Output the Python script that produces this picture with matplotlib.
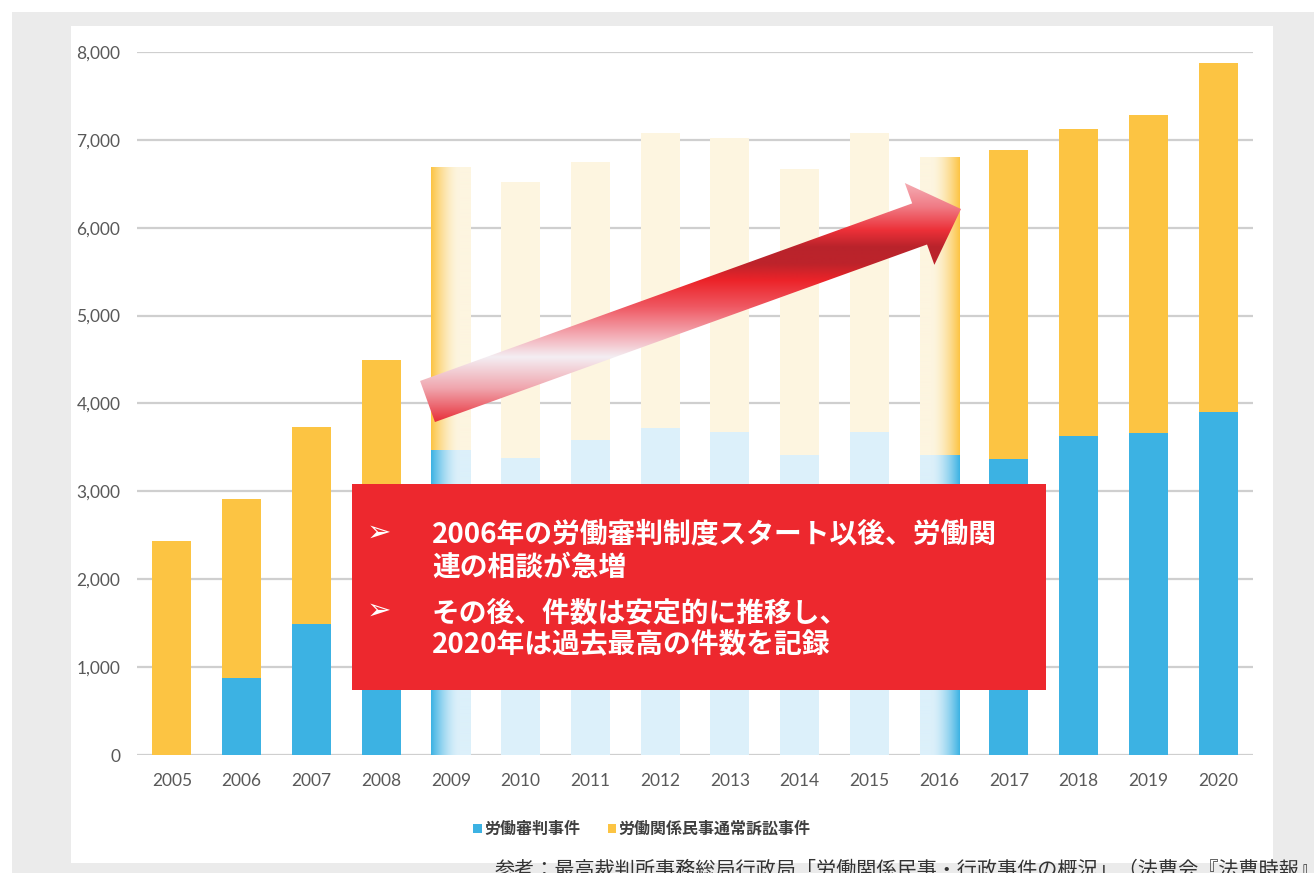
import numpy as np
import matplotlib.pyplot as plt
from matplotlib.patches import Polygon, Rectangle
from matplotlib.colors import to_rgba, LinearSegmentedColormap

# data
years = ['2005', '2006', '2007', '2008', '2009', '2010', '2011', '2012',
         '2013', '2014', '2015', '2016', '2017', '2018', '2019', '2020']
shinpan = [0, 877, 1494, 2052, 3468, 3375, 3586, 3719,
           3678, 3416, 3679, 3414, 3369, 3630, 3665, 3907]
soshou = [2440, 2033, 2236, 2438, 3222, 3145, 3164, 3361,
          3342, 3254, 3401, 3386, 3521, 3490, 3615, 3963]
series_names = ['労働審判事件', '労働関係民事通常訴訟事件']
faded_years = ['2009', '2010', '2011', '2012', '2013', '2014', '2015', '2016']
y_ticks = [0, 1000, 2000, 3000, 4000, 5000, 6000, 7000, 8000]

bullets = ['2006年の労働審判制度スタート以後、労働関\n連の相談が急増',
           'その後、件数は安定的に推移し、\n2020年は過去最高の件数を記録']
footer = '参考：最高裁判所事務総局行政局「労働関係民事・行政事件の概況」（法曹会『法曹時報』'

BLUE = '#3cb2e3'
YELLOW = '#fcc443'
BLUE_F = '#dcf0fa'
YELLOW_F = '#fdf5e0'
RED = '#ed282e'
CJK = ['Noto Sans CJK JP', 'DejaVu Sans']

W, H = 1314, 873
fig = plt.figure(figsize=(W / 100, H / 100), dpi=100)

# background frame (pixel coordinates)
bg = fig.add_axes([0, 0, 1, 1], zorder=-1)
bg.set_xlim(0, W)
bg.set_ylim(H, 0)
bg.axis('off')
bg.add_patch(Rectangle((12, 12), W - 12, H - 12, color='#ebebeb', lw=0))
bg.add_patch(Rectangle((71, 26), 1273 - 71, 863 - 26, color='white', lw=0))

# main chart
ax = fig.add_axes([137 / W, 1 - 755 / H, (1253 - 137) / W, (755 - 52) / H])
ax.set_facecolor('none')
x = np.arange(len(years))
bw = 0.56
b1 = ax.bar(x, shinpan, bw, color=BLUE, label=series_names[0], zorder=2)
b2 = ax.bar(x, soshou, bw, bottom=shinpan, color=YELLOW, label=series_names[1], zorder=2)


def hgrad(bar, full, faded, reverse=False):
    x0, y0 = bar.get_x(), bar.get_y()
    w, h = bar.get_width(), bar.get_height()
    t = np.linspace(0, 1, 80)
    if reverse:
        t = t[::-1]
    m = np.clip(1 - t / 0.7, 0, 1)[:, None] ** 1.6
    c0 = np.array(to_rgba(faded))
    c1 = np.array(to_rgba(full))
    img = (c0 + (c1 - c0) * m)[None, :, :]
    im = ax.imshow(img, extent=(x0, x0 + w, y0, y0 + h), aspect='auto',
                   interpolation='bilinear', zorder=2.1)
    im.set_clip_path(bar)


for i, yr in enumerate(years):
    if yr in faded_years:
        b1[i].set_facecolor(BLUE_F)
        b2[i].set_facecolor(YELLOW_F)
        if yr == faded_years[0]:
            hgrad(b1[i], BLUE, BLUE_F)
            hgrad(b2[i], YELLOW, YELLOW_F)
        elif yr == faded_years[-1]:
            hgrad(b1[i], BLUE, BLUE_F, reverse=True)
            hgrad(b2[i], YELLOW, YELLOW_F, reverse=True)

ax.set_xlim(-0.5, len(years) - 0.5)
ax.set_ylim(0, 8000)
ax.set_yticks(y_ticks)
ax.set_yticklabels([f'{v:,}' for v in y_ticks])
ax.set_xticks(x)
ax.set_xticklabels(years)
ax.grid(axis='y', color='#cfcfcf', lw=1.6)
ax.set_axisbelow(True)
for s in ax.spines.values():
    s.set_visible(False)
ax.tick_params(length=0, colors='#595959', labelsize=12.5)
ax.tick_params(axis='x', pad=13)
ax.tick_params(axis='y', pad=12)
for lab in ax.get_xticklabels() + ax.get_yticklabels():
    lab.set_family('Lato')

leg = ax.legend(loc='center', bbox_to_anchor=(642 / W, 1 - 829 / H),
                bbox_transform=fig.transFigure, ncol=2, frameon=False,
                handlelength=0.55, handleheight=0.55, handletextpad=0.15,
                columnspacing=1.7, prop={'family': CJK, 'weight': 'bold', 'size': 11.5})
for t in leg.get_texts():
    t.set_color('#404040')

# overlay: arrow, text box, footer (pixel coordinates)
fg = fig.add_axes([0, 0, 1, 1], zorder=3)
fg.set_facecolor('none')
fg.axis('off')

tail = np.array([427.5, 401.5])
tip = np.array([961.0, 209.0])
shaft_w, head_w, head_l = 43.7, 87.0, 44.0
d = (tip - tail) / np.linalg.norm(tip - tail)
n = np.array([d[1], -d[0]])
base = tip - d * head_l
verts = [tail + n * shaft_w / 2, base + n * shaft_w / 2, base + n * head_w / 2, tip,
         base - n * head_w / 2, base - n * shaft_w / 2, tail - n * shaft_w / 2]
arrow = Polygon(verts, closed=True, facecolor='none', edgecolor='none')
fg.add_patch(arrow)
vx = [v[0] for v in verts]
vy = [v[1] for v in verts]
stops = [(0.0, '#f5aeb5'), (0.1, '#f07c86'), (0.2, '#ec3038'), (0.27, '#b9232b'),
         (0.34, '#bd232b'), (0.41, '#ec2329'), (0.52, '#ef5862'), (0.63, '#f3a5ae'),
         (0.73, '#f4eef3'), (0.86, '#f0a6ae'), (1.0, '#e8303a')]
cmap = LinearSegmentedColormap.from_list('arrow', stops)
grad = np.linspace(0, 1, 256)[:, None]
im = fg.imshow(grad, cmap=cmap, extent=(min(vx), max(vx), max(vy), min(vy)),
               origin='upper', aspect='auto', interpolation='bilinear', zorder=4)
im.set_clip_path(arrow)

fg.add_patch(Rectangle((352, 484), 1046 - 352, 690 - 484, color=RED, lw=0, zorder=5))
for text, yc in zip(bullets, [551, 629]):
    fg.text(379, yc - 18, '➢', color='white', fontsize=21, ha='center', va='center',
            family=['DejaVu Sans'], zorder=6)
    fg.text(432, yc, text, color='white', fontsize=20, fontweight='bold', ha='left',
            va='center', family=CJK, linespacing=1.2, zorder=6)

fg.text(495, 860, footer, color='#333333', fontsize=14.5, ha='left', va='top',
        family=CJK, zorder=6)

fg.set_xlim(0, W)
fg.set_ylim(H, 0)

fig.savefig('out.png', dpi=100, facecolor='white')
